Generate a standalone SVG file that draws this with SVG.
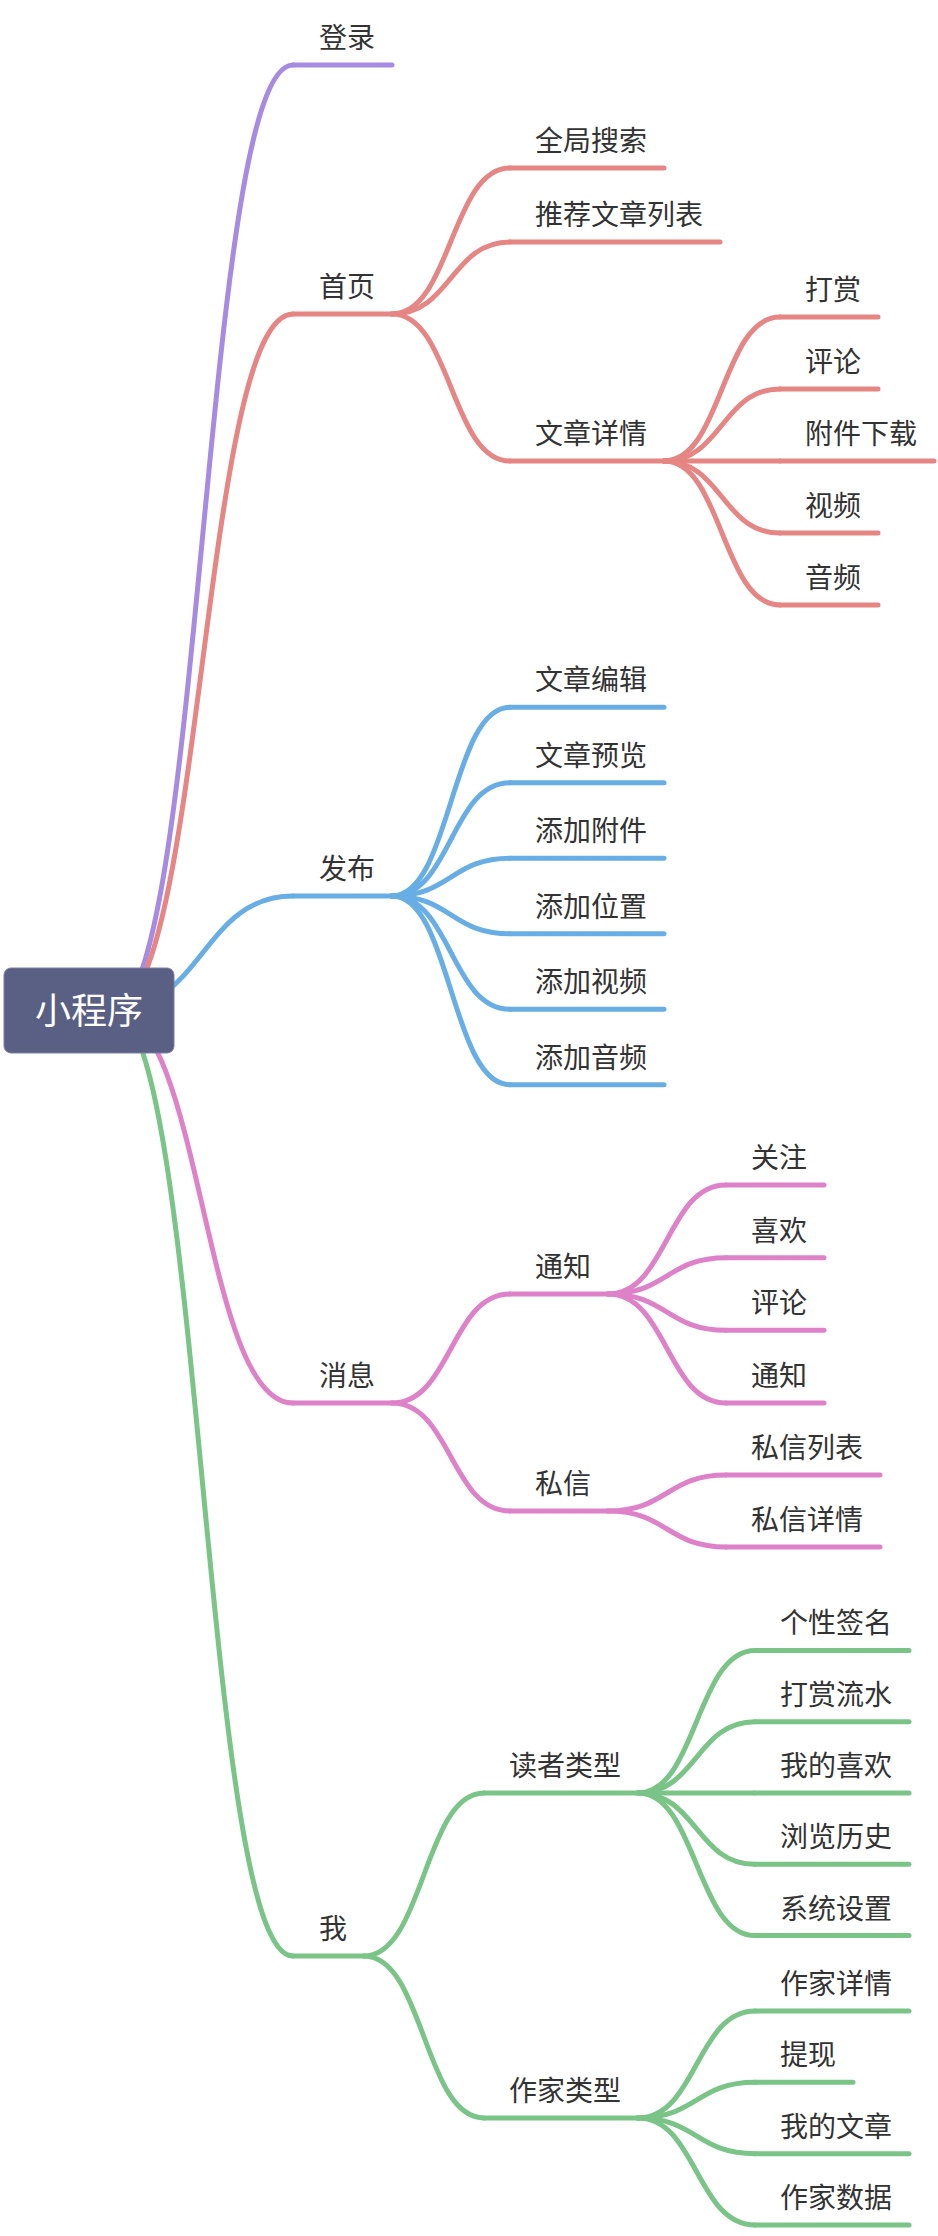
<svg xmlns="http://www.w3.org/2000/svg" width="938" height="2236" viewBox="0 0 938 2236">
<style>
.t{font-family:"Noto Sans CJK SC","Noto Sans",sans-serif;font-size:28px;fill:#333333}
.r{font-family:"Noto Sans CJK SC","Noto Sans",sans-serif;font-size:36px;fill:#ffffff}
path,line{fill:none;stroke-width:5;stroke-linecap:round}
.pu{stroke:#a78be0}.rd{stroke:#e58584}.bl{stroke:#68aee5}.pk{stroke:#dd82c8}.gr{stroke:#7ac488}
</style>
<rect width="938" height="2236" fill="#ffffff"/>
<g id="connectors">
<path class="pu" d="M112 1010 C202.5 1010 202.5 65 293 65"/>
<path class="rd" d="M112 1010 C202.5 1010 202.5 314 293 314"/>
<path class="bl" d="M112 1010 C202.5 1010 202.5 896 293 896"/>
<path class="pk" d="M112 1010 C202.5 1010 202.5 1403 293 1403"/>
<path class="gr" d="M112 1010 C202.5 1010 202.5 1956 293 1956"/>
<path class="rd" d="M392 314 C451 314 451 168 510 168"/>
<path class="rd" d="M392 314 C451 314 451 242 510 242"/>
<path class="rd" d="M392 314 C451 314 451 461 510 461"/>
<path class="rd" d="M664 461 C722 461 722 317 780 317"/>
<path class="rd" d="M664 461 C722 461 722 389 780 389"/>
<path class="rd" d="M664 461 L780 461"/>
<path class="rd" d="M664 461 C722 461 722 533 780 533"/>
<path class="rd" d="M664 461 C722 461 722 605 780 605"/>
<path class="bl" d="M392 896 C451 896 451 707.25 510 707.25"/>
<path class="bl" d="M392 896 C451 896 451 782.75 510 782.75"/>
<path class="bl" d="M392 896 C451 896 451 858.25 510 858.25"/>
<path class="bl" d="M392 896 C451 896 451 933.75 510 933.75"/>
<path class="bl" d="M392 896 C451 896 451 1009.25 510 1009.25"/>
<path class="bl" d="M392 896 C451 896 451 1084.75 510 1084.75"/>
<path class="pk" d="M392 1403 C451 1403 451 1294 510 1294"/>
<path class="pk" d="M392 1403 C451 1403 451 1511 510 1511"/>
<path class="pk" d="M608 1294 C667 1294 667 1185 726 1185"/>
<path class="pk" d="M608 1294 C667 1294 667 1257.7 726 1257.7"/>
<path class="pk" d="M608 1294 C667 1294 667 1330.3 726 1330.3"/>
<path class="pk" d="M608 1294 C667 1294 667 1403 726 1403"/>
<path class="pk" d="M608 1511 C667 1511 667 1475 726 1475"/>
<path class="pk" d="M608 1511 C667 1511 667 1547 726 1547"/>
<path class="gr" d="M364 1956 C424 1956 424 1793 484 1793"/>
<path class="gr" d="M364 1956 C424 1956 424 2118 484 2118"/>
<path class="gr" d="M638 1793 C696.5 1793 696.5 1650.4 755 1650.4"/>
<path class="gr" d="M638 1793 C696.5 1793 696.5 1721.7 755 1721.7"/>
<path class="gr" d="M638 1793 L755 1793"/>
<path class="gr" d="M638 1793 C696.5 1793 696.5 1864.3 755 1864.3"/>
<path class="gr" d="M638 1793 C696.5 1793 696.5 1935.6 755 1935.6"/>
<path class="gr" d="M638 2118 C696.5 2118 696.5 2011 755 2011"/>
<path class="gr" d="M638 2118 C696.5 2118 696.5 2082.3 755 2082.3"/>
<path class="gr" d="M638 2118 C696.5 2118 696.5 2153.7 755 2153.7"/>
<path class="gr" d="M638 2118 C696.5 2118 696.5 2225 755 2225"/>
</g>
<g id="root"><rect x="4" y="968" width="170" height="85" rx="7" fill="#596083" stroke="#7a80a0" stroke-width="1"/><text class="r" x="89" y="1024" text-anchor="middle">小程序</text></g>
<g id="n-login"><line class="pu" x1="293" y1="65" x2="392" y2="65"/><text class="t" x="319" y="48">登录</text></g>
<g id="n-home"><line class="rd" x1="293" y1="314" x2="392" y2="314"/><text class="t" x="319" y="297">首页</text></g>
<g id="n-search"><line class="rd" x1="510" y1="168" x2="664" y2="168"/><text class="t" x="535" y="151">全局搜索</text></g>
<g id="n-recommend"><line class="rd" x1="510" y1="242" x2="720" y2="242"/><text class="t" x="535" y="225">推荐文章列表</text></g>
<g id="n-detail"><line class="rd" x1="510" y1="461" x2="664" y2="461"/><text class="t" x="535" y="444">文章详情</text></g>
<g id="n-reward"><line class="rd" x1="780" y1="317" x2="878" y2="317"/><text class="t" x="805" y="300">打赏</text></g>
<g id="n-comment"><line class="rd" x1="780" y1="389" x2="878" y2="389"/><text class="t" x="805" y="372">评论</text></g>
<g id="n-attach"><line class="rd" x1="780" y1="461" x2="934" y2="461"/><text class="t" x="805" y="444">附件下载</text></g>
<g id="n-video"><line class="rd" x1="780" y1="533" x2="878" y2="533"/><text class="t" x="805" y="516">视频</text></g>
<g id="n-audio"><line class="rd" x1="780" y1="605" x2="878" y2="605"/><text class="t" x="805" y="588">音频</text></g>
<g id="n-publish"><line class="bl" x1="293" y1="896" x2="392" y2="896"/><text class="t" x="319" y="879">发布</text></g>
<g id="n-edit"><line class="bl" x1="510" y1="707.25" x2="664" y2="707.25"/><text class="t" x="535" y="690">文章编辑</text></g>
<g id="n-preview"><line class="bl" x1="510" y1="782.75" x2="664" y2="782.75"/><text class="t" x="535" y="766">文章预览</text></g>
<g id="n-addattach"><line class="bl" x1="510" y1="858.25" x2="664" y2="858.25"/><text class="t" x="535" y="841">添加附件</text></g>
<g id="n-addloc"><line class="bl" x1="510" y1="933.75" x2="664" y2="933.75"/><text class="t" x="535" y="917">添加位置</text></g>
<g id="n-addvideo"><line class="bl" x1="510" y1="1009.25" x2="664" y2="1009.25"/><text class="t" x="535" y="992">添加视频</text></g>
<g id="n-addaudio"><line class="bl" x1="510" y1="1084.75" x2="664" y2="1084.75"/><text class="t" x="535" y="1068">添加音频</text></g>
<g id="n-msg"><line class="pk" x1="293" y1="1403" x2="392" y2="1403"/><text class="t" x="319" y="1386">消息</text></g>
<g id="n-notice"><line class="pk" x1="510" y1="1294" x2="608" y2="1294"/><text class="t" x="535" y="1277">通知</text></g>
<g id="n-follow"><line class="pk" x1="726" y1="1185" x2="824" y2="1185"/><text class="t" x="751" y="1168">关注</text></g>
<g id="n-like"><line class="pk" x1="726" y1="1257.7" x2="824" y2="1257.7"/><text class="t" x="751" y="1241">喜欢</text></g>
<g id="n-comment2"><line class="pk" x1="726" y1="1330.3" x2="824" y2="1330.3"/><text class="t" x="751" y="1313">评论</text></g>
<g id="n-notice2"><line class="pk" x1="726" y1="1403" x2="824" y2="1403"/><text class="t" x="751" y="1386">通知</text></g>
<g id="n-pm"><line class="pk" x1="510" y1="1511" x2="608" y2="1511"/><text class="t" x="535" y="1494">私信</text></g>
<g id="n-pmlist"><line class="pk" x1="726" y1="1475" x2="880" y2="1475"/><text class="t" x="751" y="1458">私信列表</text></g>
<g id="n-pmdetail"><line class="pk" x1="726" y1="1547" x2="880" y2="1547"/><text class="t" x="751" y="1530">私信详情</text></g>
<g id="n-me"><line class="gr" x1="293" y1="1956" x2="364" y2="1956"/><text class="t" x="319" y="1939">我</text></g>
<g id="n-reader"><line class="gr" x1="484" y1="1793" x2="638" y2="1793"/><text class="t" x="509" y="1776">读者类型</text></g>
<g id="n-sign"><line class="gr" x1="755" y1="1650.4" x2="909" y2="1650.4"/><text class="t" x="780" y="1633">个性签名</text></g>
<g id="n-rewardflow"><line class="gr" x1="755" y1="1721.7" x2="909" y2="1721.7"/><text class="t" x="780" y="1705">打赏流水</text></g>
<g id="n-mylike"><line class="gr" x1="755" y1="1793" x2="909" y2="1793"/><text class="t" x="780" y="1776">我的喜欢</text></g>
<g id="n-history"><line class="gr" x1="755" y1="1864.3" x2="909" y2="1864.3"/><text class="t" x="780" y="1847">浏览历史</text></g>
<g id="n-settings"><line class="gr" x1="755" y1="1935.6" x2="909" y2="1935.6"/><text class="t" x="780" y="1919">系统设置</text></g>
<g id="n-writer"><line class="gr" x1="484" y1="2118" x2="638" y2="2118"/><text class="t" x="509" y="2101">作家类型</text></g>
<g id="n-wdetail"><line class="gr" x1="755" y1="2011" x2="909" y2="2011"/><text class="t" x="780" y="1994">作家详情</text></g>
<g id="n-withdraw"><line class="gr" x1="755" y1="2082.3" x2="853" y2="2082.3"/><text class="t" x="780" y="2065">提现</text></g>
<g id="n-myarticle"><line class="gr" x1="755" y1="2153.7" x2="909" y2="2153.7"/><text class="t" x="780" y="2137">我的文章</text></g>
<g id="n-wdata"><line class="gr" x1="755" y1="2225" x2="909" y2="2225"/><text class="t" x="780" y="2208">作家数据</text></g>
</svg>
